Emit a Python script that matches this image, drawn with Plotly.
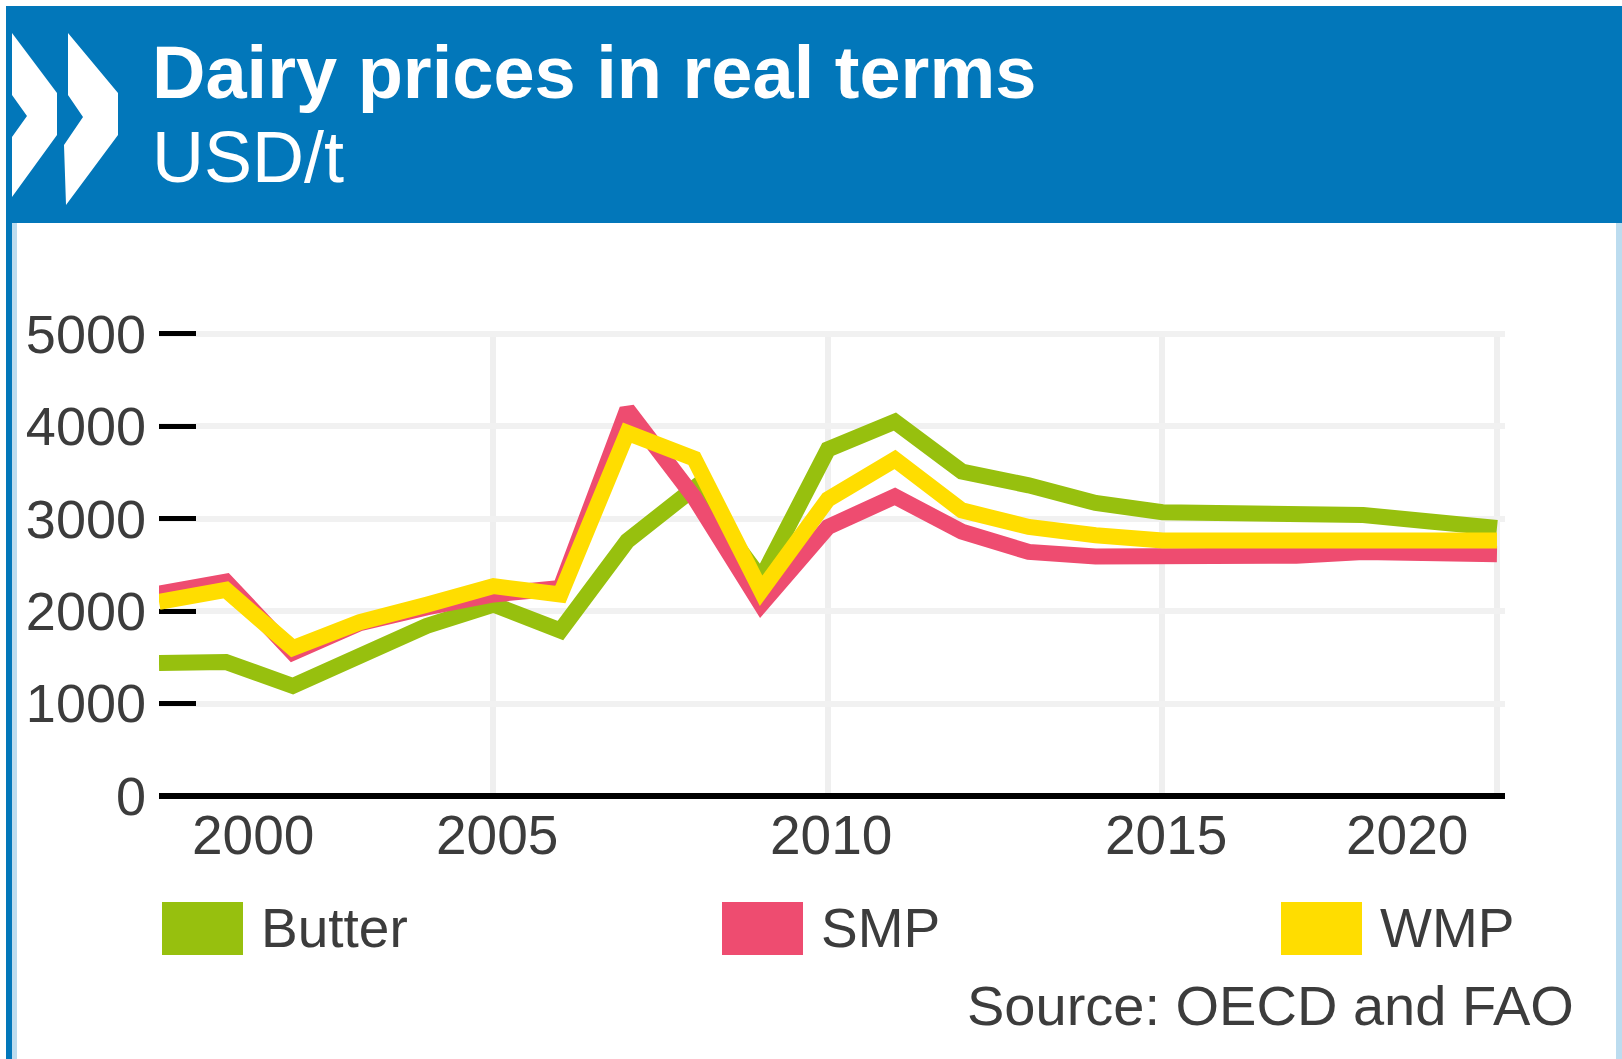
import plotly.graph_objects as go

# ---------------- data ----------------
years = list(range(2000, 2021))
butter = [1440, 1450, 1190, 1500, 1840, 2070, 1790, 2760, 3330, 2350, 3750,
          4050, 3510, 3360, 3170, 3070, 3060, 3060, 3040, 2970, 2900]
smp = [2190, 2320, 1550, 1870, 2040, 2180, 2250, 4180, 3230, 2070, 2910,
       3240, 2860, 2640, 2590, 2590, 2590, 2600, 2640, 2620, 2615]
wmp = [2100, 2230, 1600, 1880, 2070, 2270, 2180, 3930, 3650, 2220, 3210,
       3640, 3090, 2910, 2820, 2765, 2765, 2770, 2770, 2770, 2765]
series_names = ["Butter", "SMP", "WMP"]
series_colors = ["#97C00E", "#EE4C70", "#FFDD00"]
x_tick_text = ["2000", "2005", "2010", "2015", "2020"]
x_tick_label_pos = [2001.4, 2005.05, 2010.05, 2015.05, 2018.65]
y_ticks = [0, 1000, 2000, 3000, 4000, 5000]

title_text = "Dairy prices in real terms"
subtitle_text = "USD/t"
source_text = "Source: OECD and FAO"

# ---------------- geometry helpers ----------------
W_FIG, H_FIG = 1622, 1059
Y_TOP = 5030
L, R, T, B = 159, 1505, 331, 796
PW, PH = R - L, B - T


def px(x):
    return (x - L) / PW


def py(y):
    return (B - y) / PH


FONT = "Liberation Sans, Arial, sans-serif"
TXT = "#3c3c3c"

fig = go.Figure()
for name, vals, col in zip(series_names, [butter, smp, wmp], series_colors):
    fig.add_trace(go.Scatter(x=years, y=vals, mode="lines", name=name,
                             line=dict(color=col, width=16),
                             showlegend=False, hoverinfo="x+y+name"))

shapes = []
# header band
shapes.append(dict(type="rect", xref="paper", yref="paper",
                   x0=px(6), x1=px(1622), y0=py(223), y1=py(6),
                   fillcolor="#0277BA", line=dict(width=0), layer="above"))
# left border
shapes.append(dict(type="rect", xref="paper", yref="paper",
                   x0=px(6), x1=px(12), y0=py(1059), y1=py(223),
                   fillcolor="#0277BA", line=dict(width=0)))
shapes.append(dict(type="rect", xref="paper", yref="paper",
                   x0=px(12), x1=px(17), y0=py(1059), y1=py(223),
                   fillcolor="#BCDCEF", line=dict(width=0)))
# right border
shapes.append(dict(type="rect", xref="paper", yref="paper",
                   x0=px(1616), x1=px(1622), y0=py(1059), y1=py(223),
                   fillcolor="#BCDCEF", line=dict(width=0)))


def path(points):
    s = "M " + " L ".join(f"{px(a):.5f},{py(b):.5f}" for a, b in points) + " Z"
    return s


chev1 = [(12, 33), (57, 93), (57, 135), (12, 197), (12, 137), (27, 116), (12, 95)]
chev2 = [(68, 33), (118, 93), (118, 135), (66, 205), (64, 145), (83, 117), (68, 95)]
for ch in (chev1, chev2):
    shapes.append(dict(type="path", xref="paper", yref="paper", path=path(ch),
                       fillcolor="white", line=dict(width=0)))

# legend squares
leg_x = [162, 722, 1281]
for lx, col in zip(leg_x, series_colors):
    shapes.append(dict(type="rect", xref="paper", yref="paper",
                       x0=px(lx), x1=px(lx + 81), y0=py(955), y1=py(902),
                       fillcolor=col, line=dict(width=0)))

annotations = []
annotations.append(dict(text="<b>" + title_text + "</b>", xref="paper", yref="paper",
                        x=px(150), y=py(73), xanchor="left", yanchor="middle",
                        showarrow=False, font=dict(family=FONT, size=74, color="white")))
annotations.append(dict(text=subtitle_text, xref="paper", yref="paper",
                        x=px(150), y=py(157), xanchor="left", yanchor="middle",
                        showarrow=False, font=dict(family=FONT, size=72, color="white")))
for lx, name in zip(leg_x, series_names):
    annotations.append(dict(text=name, xref="paper", yref="paper",
                            x=px(lx + 97), y=py(928), xanchor="left", yanchor="middle",
                            showarrow=False, font=dict(family=FONT, size=55, color=TXT)))
annotations.append(dict(text=source_text, xref="paper", yref="paper",
                        x=px(1576), y=py(1005), xanchor="right", yanchor="middle",
                        showarrow=False, font=dict(family=FONT, size=56, color=TXT)))
for xv, t in zip(x_tick_label_pos, x_tick_text):
    annotations.append(dict(text=t, xref="x", yref="paper",
                            x=xv, y=py(835), xanchor="center", yanchor="middle",
                            showarrow=False, font=dict(family=FONT, size=55, color=TXT)))

fig.update_layout(
    width=W_FIG, height=H_FIG,
    margin=dict(l=L, r=W_FIG - R, t=T, b=H_FIG - B, pad=0),
    paper_bgcolor="white", plot_bgcolor="white",
    showlegend=False,
    shapes=shapes, annotations=annotations,
    xaxis=dict(range=[2000, 2020.12], tick0=2000, dtick=5, showgrid=True,
               gridcolor="#EFEFEF", gridwidth=6, showticklabels=False,
               ticks="", zeroline=False, showline=False, fixedrange=True),
    yaxis=dict(range=[0, Y_TOP], tickvals=y_ticks, ticktext=[str(v) for v in y_ticks],
               showgrid=True, gridcolor="#F1F1F1", gridwidth=6,
               ticks="inside", ticklen=37, tickwidth=5, tickcolor="black",
               zeroline=True, zerolinecolor="black", zerolinewidth=6,
               showline=False, layer="below traces", ticklabelstandoff=12,
               tickfont=dict(family=FONT, size=54, color=TXT), fixedrange=True),
)

fig.write_html("out.html", config={"displayModeBar": False},
               post_script="document.body.style.margin='0';")
